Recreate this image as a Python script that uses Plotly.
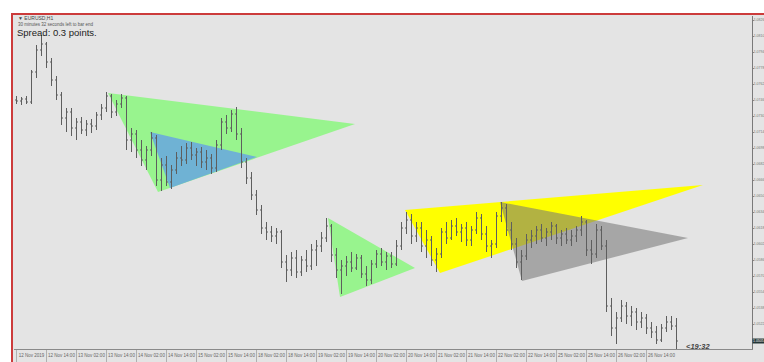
import plotly.graph_objects as go

# EURUSD bars (open / high / low / close)
opens = [
    1.0746, 1.0745, 1.0747, 1.0744, 1.0774, 1.0796, 1.0802, 1.0784, 1.0766, 1.0751,
    1.0728, 1.0734, 1.0718, 1.0724, 1.0716, 1.0722, 1.0720, 1.0731, 1.0738, 1.0750,
    1.0734, 1.0742, 1.0748, 1.0706, 1.0712, 1.0696, 1.0686, 1.0696, 1.0708, 1.0666,
    1.0681, 1.0664, 1.0676, 1.0688, 1.0686, 1.0698, 1.0691, 1.0694, 1.0684, 1.0688,
    1.0678, 1.0701, 1.0724, 1.0718, 1.0732, 1.0712, 1.0684, 1.0668, 1.0651, 1.0636,
    1.0618, 1.0614, 1.0610, 1.0614, 1.0584, 1.0576, 1.0588, 1.0574, 1.0586, 1.0580,
    1.0596, 1.0600, 1.0608, 1.0620, 1.0591, 1.0576, 1.0580, 1.0584, 1.0578, 1.0588,
    1.0572, 1.0566, 1.0582, 1.0592, 1.0584, 1.0590, 1.0582, 1.0600, 1.0618, 1.0626,
    1.0610, 1.0618, 1.0600, 1.0606, 1.0586, 1.0592, 1.0614, 1.0608, 1.0620, 1.0614,
    1.0618, 1.0606, 1.0616, 1.0628, 1.0612, 1.0600, 1.0602, 1.0630, 1.0638, 1.0616,
    1.0602, 1.0584, 1.0590, 1.0606, 1.0610, 1.0616, 1.0608, 1.0614, 1.0620, 1.0608,
    1.0612, 1.0606, 1.0610, 1.0616, 1.0624, 1.0596, 1.0592, 1.0616, 1.0600, 1.0540,
    1.0518, 1.0528, 1.0540, 1.0530, 1.0534, 1.0524, 1.0528, 1.0518, 1.0514, 1.0506,
    1.0518, 1.0524, 1.0520,
]
highs = [
    1.0750, 1.0749, 1.0750, 1.0776, 1.0801, 1.0811, 1.0804, 1.0788, 1.0770, 1.0754,
    1.0738, 1.0738, 1.0728, 1.0729, 1.0726, 1.0727, 1.0734, 1.0742, 1.0754, 1.0752,
    1.0746, 1.0752, 1.0750, 1.0718, 1.0716, 1.0706, 1.0700, 1.0714, 1.0711, 1.0688,
    1.0690, 1.0681, 1.0694, 1.0700, 1.0703, 1.0704, 1.0698, 1.0699, 1.0696, 1.0692,
    1.0706, 1.0728, 1.0731, 1.0736, 1.0739, 1.0718, 1.0688, 1.0674, 1.0656, 1.0641,
    1.0624, 1.0620, 1.0618, 1.0616, 1.0591, 1.0594, 1.0596, 1.0590, 1.0596, 1.0602,
    1.0606, 1.0614, 1.0628, 1.0622, 1.0598, 1.0586, 1.0590, 1.0594, 1.0592, 1.0591,
    1.0580, 1.0586, 1.0596, 1.0598, 1.0594, 1.0594, 1.0606, 1.0624, 1.0634, 1.0632,
    1.0624, 1.0624, 1.0616, 1.0610, 1.0598, 1.0618, 1.0624, 1.0626, 1.0628, 1.0622,
    1.0624, 1.0620, 1.0634, 1.0632, 1.0620, 1.0606, 1.0634, 1.0644, 1.0642, 1.0624,
    1.0608, 1.0596, 1.0612, 1.0616, 1.0620, 1.0622, 1.0618, 1.0624, 1.0622, 1.0616,
    1.0618, 1.0616, 1.0620, 1.0630, 1.0626, 1.0606, 1.0622, 1.0620, 1.0606, 1.0548,
    1.0534, 1.0546, 1.0544, 1.0540, 1.0538, 1.0534, 1.0532, 1.0524, 1.0520, 1.0522,
    1.0530, 1.0530, 1.0528,
]
lows = [
    1.0742, 1.0741, 1.0742, 1.0742, 1.0768, 1.0790, 1.0778, 1.0760, 1.0746, 1.0721,
    1.0714, 1.0710, 1.0706, 1.0712, 1.0710, 1.0713, 1.0716, 1.0726, 1.0734, 1.0728,
    1.0730, 1.0738, 1.0696, 1.0694, 1.0688, 1.0680, 1.0676, 1.0690, 1.0660, 1.0655,
    1.0660, 1.0657, 1.0672, 1.0680, 1.0682, 1.0686, 1.0680, 1.0678, 1.0676, 1.0672,
    1.0674, 1.0696, 1.0712, 1.0714, 1.0706, 1.0678, 1.0662, 1.0646, 1.0631, 1.0612,
    1.0606, 1.0604, 1.0602, 1.0578, 1.0564, 1.0570, 1.0568, 1.0570, 1.0574, 1.0576,
    1.0580, 1.0594, 1.0604, 1.0584, 1.0568, 1.0552, 1.0570, 1.0574, 1.0576, 1.0568,
    1.0560, 1.0562, 1.0578, 1.0580, 1.0576, 1.0578, 1.0580, 1.0596, 1.0612, 1.0602,
    1.0604, 1.0594, 1.0588, 1.0580, 1.0574, 1.0588, 1.0602, 1.0606, 1.0610, 1.0604,
    1.0600, 1.0600, 1.0612, 1.0606, 1.0594, 1.0588, 1.0598, 1.0624, 1.0610, 1.0596,
    1.0578, 1.0566, 1.0586, 1.0598, 1.0602, 1.0604, 1.0600, 1.0606, 1.0602, 1.0600,
    1.0602, 1.0600, 1.0604, 1.0610, 1.0590, 1.0582, 1.0588, 1.0596, 1.0534, 1.0510,
    1.0502, 1.0524, 1.0522, 1.0520, 1.0516, 1.0518, 1.0512, 1.0508, 1.0502, 1.0504,
    1.0514, 1.0516, 1.0496,
]
closes = [
    1.0745, 1.0747, 1.0744, 1.0774, 1.0796, 1.0802, 1.0784, 1.0766, 1.0751, 1.0728,
    1.0734, 1.0718, 1.0724, 1.0716, 1.0722, 1.0720, 1.0731, 1.0738, 1.0750, 1.0734,
    1.0742, 1.0748, 1.0706, 1.0712, 1.0696, 1.0686, 1.0696, 1.0708, 1.0666, 1.0681,
    1.0664, 1.0676, 1.0688, 1.0686, 1.0698, 1.0691, 1.0694, 1.0684, 1.0688, 1.0678,
    1.0701, 1.0724, 1.0718, 1.0732, 1.0712, 1.0684, 1.0668, 1.0651, 1.0636, 1.0618,
    1.0614, 1.0610, 1.0614, 1.0584, 1.0576, 1.0588, 1.0574, 1.0586, 1.0580, 1.0596,
    1.0600, 1.0608, 1.0620, 1.0591, 1.0576, 1.0580, 1.0584, 1.0578, 1.0588, 1.0572,
    1.0566, 1.0582, 1.0592, 1.0584, 1.0590, 1.0582, 1.0600, 1.0618, 1.0626, 1.0610,
    1.0618, 1.0600, 1.0606, 1.0586, 1.0592, 1.0614, 1.0608, 1.0620, 1.0614, 1.0618,
    1.0606, 1.0616, 1.0628, 1.0612, 1.0600, 1.0602, 1.0630, 1.0638, 1.0616, 1.0602,
    1.0584, 1.0590, 1.0606, 1.0610, 1.0616, 1.0608, 1.0614, 1.0620, 1.0608, 1.0612,
    1.0606, 1.0610, 1.0616, 1.0624, 1.0596, 1.0592, 1.0616, 1.0600, 1.0540, 1.0518,
    1.0528, 1.0540, 1.0530, 1.0534, 1.0524, 1.0528, 1.0518, 1.0514, 1.0506, 1.0518,
    1.0524, 1.0520, 1.0505,
]

# triangle objects drawn on the chart: (bar index, price) vertices
tri_green1_x = [18.3, 67.7, 28.3]
tri_green1_y = [1.0753, 1.0722, 1.0654]
tri_blue_x = [26.7, 48.1, 30.7]
tri_blue_y = [1.0714, 1.0689, 1.0658]
tri_green2_x = [62.3, 79.7, 64.7]
tri_green2_y = [1.0628, 1.0578, 1.0549]
tri_yellow_x = [77.7, 137.3, 84.7]
tri_yellow_y = [1.0636, 1.0661, 1.0573]
tri_gray_x = [96.7, 134.3, 101.1]
tri_gray_y = [1.0644, 1.0608, 1.0565]

time_labels = [
    "12 Nov 2019", "12 Nov 14:00", "13 Nov 02:00", "13 Nov 14:00", "14 Nov 02:00",
    "14 Nov 14:00", "15 Nov 02:00", "15 Nov 14:00", "18 Nov 02:00", "18 Nov 14:00",
    "19 Nov 02:00", "19 Nov 14:00", "20 Nov 02:00", "20 Nov 14:00", "21 Nov 02:00",
    "21 Nov 14:00", "22 Nov 02:00", "22 Nov 14:00", "25 Nov 02:00", "25 Nov 14:00",
    "26 Nov 02:00", "26 Nov 14:00",
]
price_ticks = [
    1.0522, 1.0538, 1.0554, 1.0570, 1.0586, 1.0602, 1.0618, 1.0634, 1.0650, 1.0666,
    1.0682, 1.0698, 1.0714, 1.0730, 1.0746, 1.0762, 1.0778, 1.0794, 1.0810, 1.0826,
]

W, H = 764, 362
L, R, T, B = 14, 12, 16, 13
PW, PH = W - L - R, H - T - B


def px(x, y):
    # pixel position -> paper coords of the plot area
    return (x - L) / PW, (H - B - y) / PH


n = len(closes)
bars = list(range(n))

fig = go.Figure()

fig.add_trace(go.Ohlc(
    x=bars, open=opens, high=highs, low=lows, close=closes,
    increasing=dict(line=dict(color="#5e5e5e", width=1)),
    decreasing=dict(line=dict(color="#5e5e5e", width=1)),
    tickwidth=0.3, showlegend=False, hoverinfo="skip",
))

# background panel inside the red frame
x0, y0 = px(12, 14)
x1, y1 = px(780, 380)
fig.add_shape(type="rect", xref="paper", yref="paper", x0=x0, y0=y1, x1=x1, y1=y0,
              fillcolor="#e4e4e4", line=dict(color="#cc3b3b", width=2), layer="below")

# triangles sit under the bars
tris = [
    (tri_green1_x, tri_green1_y, "#98f48e"),
    (tri_blue_x, tri_blue_y, "#6fb2d4"),
    (tri_green2_x, tri_green2_y, "#98f48e"),
    (tri_yellow_x, tri_yellow_y, "#ffff00"),
    (tri_gray_x, tri_gray_y, "rgba(117,117,117,0.56)"),
]
for tx, ty, col in tris:
    path = "M " + " L ".join(f"{a},{b}" for a, b in zip(tx, ty)) + " Z"
    fig.add_shape(type="path", path=path, xref="x", yref="y", fillcolor=col,
                  line=dict(width=0), layer="below")

annos = []
ax, ay = px(16, 18)
annos.append(dict(x=ax, y=ay, text="▼ EURUSD,H1", font=dict(size=5, color="#444")))
ax, ay = px(16, 25)
annos.append(dict(x=ax, y=ay, text="30 minutes 32 seconds left to bar end",
                  font=dict(size=4.5, color="#555")))
ax, ay = px(15, 33)
annos.append(dict(x=ax, y=ay, text="Spread: 0.3 points.", font=dict(size=9.5, color="#222")))
ax, ay = px(684, 346)
annos.append(dict(x=ax, y=ay, text="<i><b>&lt;19:32</b></i>", font=dict(size=7.5, color="#444")))
for a in annos:
    a.update(xref="paper", yref="paper", xanchor="left", yanchor="middle", showarrow=False)
fig.update_layout(annotations=annos)

fig.add_annotation(x=1.0, y=closes[-1], xref="paper", yref="y", xanchor="left",
                   yanchor="middle", text=f"{closes[-1]:.4f}", showarrow=False,
                   bgcolor="#243636", font=dict(size=3.5, color="white"), borderpad=0)

fig.update_xaxes(
    range=[-0.5, (W - R - 16.5) / 5], showgrid=False, zeroline=False,
    rangeslider_visible=False, showline=True, linecolor="#8a8a8a", linewidth=1,
    tickvals=list(range(0, n, 6))[:len(time_labels)], ticktext=time_labels,
    tickangle=0, automargin=False,
    ticks="outside", ticklen=12, tickcolor="#b0b0b0", ticklabelshift=15,
    ticklabelstandoff=-10, tickfont=dict(size=4.5, color="#666"),
)
fig.update_yaxes(
    range=[1.0497, 1.0830], side="right", showgrid=False, zeroline=False,
    showline=True, linecolor="#7a7a7a", linewidth=1, automargin=False,
    tickvals=price_ticks, tickformat=".4f", ticks="outside", ticklen=1,
    ticklabelstandoff=-1, tickcolor="#888", tickfont=dict(size=3.5, color="#777"),
)
fig.update_layout(
    width=W, height=H, margin=dict(l=L, r=R, t=T, b=B),
    paper_bgcolor="white", plot_bgcolor="#e4e4e4",
    font=dict(family="Liberation Sans, Arial, sans-serif"),
)

# the page's default body margin would push the fixed-size figure off-window
fig.write_html("out.html", config={"displayModeBar": False},
               post_script="document.body.style.margin='0';")
